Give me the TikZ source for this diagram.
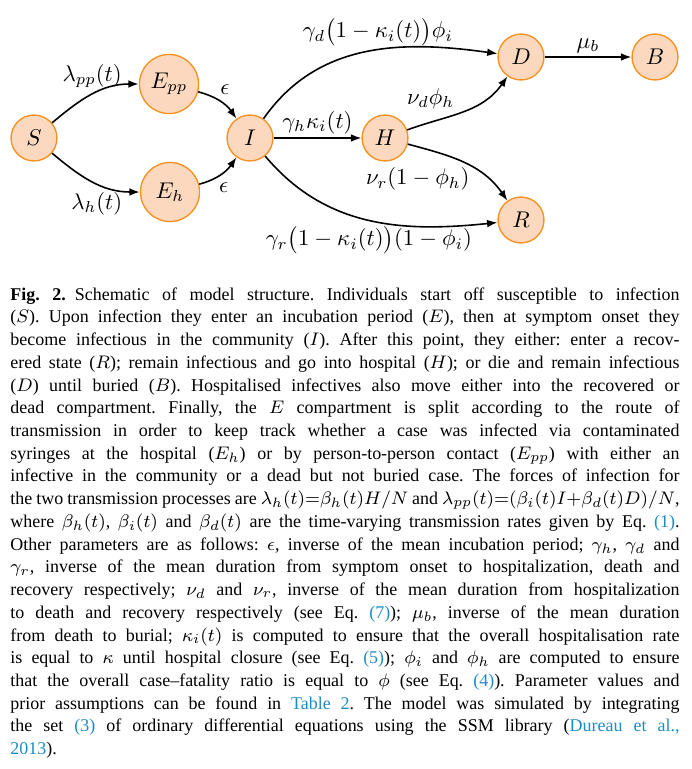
\documentclass[tikz,border=0pt]{standalone}
\usepackage{fontspec}
\usetikzlibrary{arrows.meta}
\newfontfamily\capfont[Ligatures=TeX]{Liberation Serif}
\definecolor{compfill}{RGB}{252,217,190}
\definecolor{compline}{RGB}{245,146,34}
\definecolor{linkblue}{RGB}{30,139,195}
\tikzset{
 comp/.style={circle,draw=compline,fill=compfill,line width=.6pt,minimum size=20.2pt,inner sep=0},
 bigcomp/.style={comp,minimum size=26pt},
 flow/.style={-{Latex[length=4.6pt,width=3.4pt]},line width=.7pt},
 rate/.style={inner sep=1.5pt},
 captext/.style={anchor=north west,text width=294.4pt,align=justify,inner sep=0,font=\capfont\fontsize{7.9}{10}\selectfont\frenchspacing}
}

\begin{document}
\begin{tikzpicture}[x=0.44pt,y=-0.44pt]
\path[use as bounding box] (0,0) rectangle (692,769);
% compartments
\node[comp] (S) at (34,138) {$S$};
\node[bigcomp] (Epp) at (169,84) {$E_{pp}$};
\node[bigcomp] (Eh) at (170,192) {$E_h$};
\node[comp] (I) at (250,138) {$I$};
\node[comp] (H) at (385,138) {$H$};
\node[comp] (D) at (521,57) {$D$};
\node[comp] (B) at (655,57) {$B$};
\node[comp] (R) at (521,220) {$R$};
% flows
\draw[flow] (S) to[out=40,in=180] node[rate,pos=.5,above,yshift=1pt] {$\lambda_{pp}(t)$} (Epp);
\draw[flow] (S) to[out=-40,in=180] node[rate,pos=.55,below,yshift=-2pt] {$\lambda_h(t)$} (Eh);
\draw[flow] (Epp) to[out=-15,in=125] node[rate,pos=.4,above right] {$\epsilon$} (I);
\draw[flow] (Eh) to[out=15,in=-125] node[rate,pos=.35,below right] {$\epsilon$} (I);
\draw[flow] (I) -- node[rate,above] {$\gamma_h\kappa_i(t)$} (H);
\draw[flow] (I) to[out=55,in=172] node[rate,pos=.55,above] {$\gamma_d\bigl(1-\kappa_i(t)\bigr)\phi_i$} (D);
\draw[flow] (H) to[out=20,in=235] node[rate,pos=.45,above left] {$\nu_d\phi_h$} (D);
\draw[flow] (H) to[out=-15,in=125] node[rate,pos=.6,below left,yshift=2pt] {$\nu_r(1-\phi_h)$} (R);
\draw[flow] (I) to[out=-50,in=186] node[rate,pos=.5,below,yshift=-1pt] {$\gamma_r\bigl(1-\kappa_i(t)\bigr)(1-\phi_i)$} (R);
\draw[flow] (D) -- node[rate,above] {$\mu_b$} (B);
% caption
\node[captext] (cap) at (10,287) {\tolerance=9999
\textbf{Fig. 2.}\enspace Schematic of model structure. Individuals start off susceptible to infection\linebreak
($S$). Upon infection they enter an incubation period ($E$), then at symptom onset they\linebreak
become infectious in the community ($I$). After this point, they either: enter a recov-\linebreak
ered state ($R$); remain infectious and go into hospital ($H$); or die and remain infectious\linebreak
($D$) until buried ($B$). Hospitalised infectives also move either into the recovered or\linebreak
dead compartment. Finally, the $E$ compartment is split according to the route of\linebreak
transmission in order to keep track whether a case was infected via contaminated\linebreak
syringes at the hospital ($E_h$) or by person-to-person contact ($E_{pp}$) with either an\linebreak
infective in the community or a dead but not buried case. The forces of infection for\linebreak
the two transmission processes are $\lambda_h(t){=}\beta_h(t)H/N$ and $\lambda_{pp}(t){=}(\beta_i(t)I{+}\beta_d(t)D)/N$,\linebreak
where $\beta_h(t)$, $\beta_i(t)$ and $\beta_d(t)$ are the time-varying transmission rates given by Eq.~\textcolor{linkblue}{(1)}.\linebreak
Other parameters are as follows: $\epsilon$, inverse of the mean incubation period; $\gamma_h$, $\gamma_d$ and\linebreak
$\gamma_r$, inverse of the mean duration from symptom onset to hospitalization, death and\linebreak
recovery respectively; $\nu_d$ and $\nu_r$, inverse of the mean duration from hospitalization\linebreak
to death and recovery respectively (see Eq.~\textcolor{linkblue}{(7)}); $\mu_b$, inverse of the mean duration\linebreak
from death to burial; $\kappa_i(t)$ is computed to ensure that the overall hospitalisation rate\linebreak
is equal to $\kappa$ until hospital closure (see Eq.~\textcolor{linkblue}{(5)}); $\phi_i$ and $\phi_h$ are computed to ensure\linebreak
that the overall case--fatality ratio is equal to $\phi$ (see Eq.~\textcolor{linkblue}{(4)}). Parameter values and\linebreak
prior assumptions can be found in \textcolor{linkblue}{Table 2}. The model was simulated by integrating\linebreak
the set~\textcolor{linkblue}{(3)} of ordinary differential equations using the SSM library (\textcolor{linkblue}{Dureau et al.,}\linebreak
\textcolor{linkblue}{2013}).};
\end{tikzpicture}
\end{document}
